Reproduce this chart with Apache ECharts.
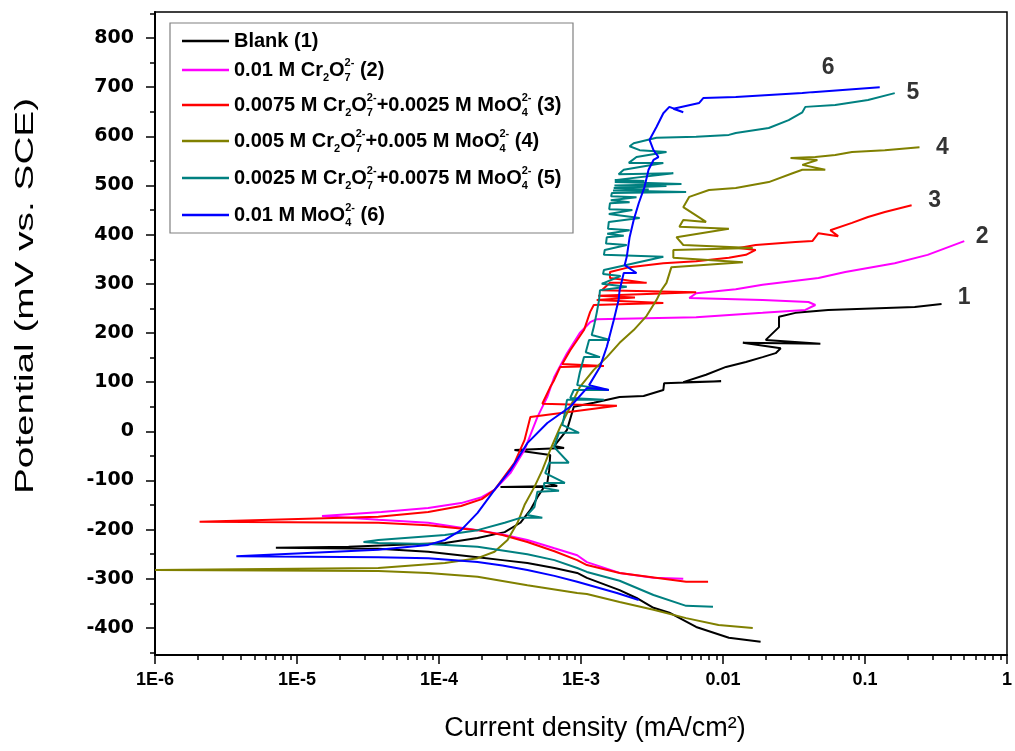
<!DOCTYPE html>
<html><head><meta charset="utf-8">
<script src="https://cdn.jsdelivr.net/npm/echarts@6/dist/echarts.min.js"></script>
<style>html,body{margin:0;padding:0;background:#fff}#c{width:1015px;height:751px}</style>
</head><body><div id="c"></div>
<script>
const seriesNames = [
  'Blank (1)',
  '0.01 M Cr₂O₇²⁻ (2)',
  '0.0075 M Cr₂O₇²⁻+0.0025 M MoO₄²⁻ (3)',
  '0.005 M Cr₂O₇²⁻+0.005 M MoO₄²⁻ (4)',
  '0.0025 M Cr₂O₇²⁻+0.0075 M MoO₄²⁻ (5)',
  '0.01 M MoO₄²⁻ (6)'
];
const legendRich = [
  'Blank (1)',
  '0.01 M Cr{sub|2}O{subz|7}{sup|2-} (2)',
  '0.0075 M Cr{sub|2}O{subz|7}{sup|2-}+0.0025 M MoO{subz|4}{sup|2-} (3)',
  '0.005 M Cr{sub|2}O{subz|7}{sup|2-}+0.005 M MoO{subz|4}{sup|2-} (4)',
  '0.0025 M Cr{sub|2}O{subz|7}{sup|2-}+0.0075 M MoO{subz|4}{sup|2-} (5)',
  '0.01 M MoO{subz|4}{sup|2-} (6)'
];
const seriesColors = ['#000000', '#ff00ff', '#ff0000', '#808000', '#008080', '#0000ff'];

// [current density (mA/cm2), potential (mV vs SCE)]
const blank = [[0.0184,-428],[0.0110,-420],[6.47e-3,-398],[4.19e-3,-369],[3.24e-3,-359],[2.46e-3,-339],[1.87e-3,-323],[1.10e-3,-298],[9.4e-4,-288],[6.5e-4,-278],[4.19e-4,-268],[2.8e-4,-262],[1.87e-4,-256],[8.4e-5,-245],[3.74e-5,-239],[7.1e-6,-237],[2.31e-5,-235],[1.10e-4,-227],[1.87e-4,-217],[2.9e-4,-205],[3.74e-4,-186],[4.4e-4,-160],[4.93e-4,-134],[5.5e-4,-113],[2.71e-4,-113],[6.8e-4,-111],[5.79e-4,-105],[5.97e-4,-79],[6.07e-4,-48],[3.4e-4,-38],[7.6e-4,-34],[6.47e-4,-30],[7.97e-4,3],[8.9e-4,50],[1.23e-3,58],[1.87e-3,70],[2.76e-3,72],[3.8e-3,84],[3.85e-3,98],[9.7e-3,102],[5.25e-3,100],[7.6e-3,115],[0.0105,131],[0.0145,141],[0.019,151],[0.0235,159],[0.0255,169],[0.0138,180],[0.0485,178],[0.020,186],[0.0248,212],[0.0248,233],[0.0324,241],[0.055,247],[0.224,253],[0.346,259]];
const cr01 = [[5.25e-3,-300],[3.24e-3,-298],[1.87e-3,-288],[1.10e-3,-266],[9.4e-4,-252],[6.5e-4,-238],[4.19e-4,-221],[2.8e-4,-210],[1.87e-4,-201],[8.4e-5,-186],[3.74e-5,-180],[1.5e-5,-172],[3.93e-5,-164],[8.4e-5,-156],[1.43e-4,-146],[2.0e-4,-134],[2.46e-4,-119],[3.18e-4,-85],[4.0e-4,-38],[4.93e-4,29],[5.79e-4,70],[6.47e-4,110],[7.97e-4,159],[9.8e-4,200],[1.16e-3,222],[1.29e-3,228],[6.47e-3,232],[0.019,241],[0.038,247],[0.0447,257],[0.040,263],[0.019,267],[5.79e-3,271],[6.47e-3,281],[0.0123,289],[0.019,298],[0.047,312],[0.0726,324],[0.162,342],[0.276,359],[0.5,387]];
const mix3 = [[7.85e-3,-306],[5.5e-3,-306],[1.87e-3,-288],[1.10e-3,-272],[9.4e-4,-262],[6.5e-4,-244],[4.19e-4,-225],[2.8e-4,-211],[1.87e-4,-201],[8.4e-5,-191],[3.74e-5,-186],[2.06e-6,-184],[3.74e-5,-174],[8.4e-5,-164],[1.43e-4,-152],[2.0e-4,-138],[2.46e-4,-119],[3.4e-4,-64],[4.0e-4,-18],[4.4e-4,29],[1.79e-3,52],[5.34e-4,56],[6.07e-4,90],[6.47e-4,104],[7.14e-4,131],[1.45e-3,133],[7.38e-4,137],[8.4e-4,165],[1.05e-3,206],[1.16e-3,243],[1.23e-3,257],[3.8e-3,261],[1.29e-3,267],[2.4e-3,272],[1.32e-3,276],[6.47e-3,283],[1.40e-3,287],[1.6e-3,302],[2.9e-3,302],[1.6e-3,312],[1.6e-3,324],[2.2e-3,334],[3.8e-3,342],[6.47e-3,346],[0.011,353],[0.0145,359],[0.017,369],[0.0129,373],[0.017,379],[0.0324,385],[0.0426,387],[0.047,403],[0.0647,397],[0.057,409],[0.081,424],[0.105,436],[0.138,446],[0.213,460]];
const mix4 = [[0.0162,-400],[9.3e-3,-394],[5.5e-3,-380],[3.24e-3,-363],[1.87e-3,-347],[1.10e-3,-331],[9.4e-4,-329],[4.19e-4,-313],[1.87e-4,-296],[8.4e-5,-288],[3.74e-5,-284],[1.0e-6,-282],[3.74e-5,-278],[1.10e-4,-268],[1.87e-4,-258],[2.46e-4,-245],[3.04e-4,-221],[3.57e-4,-186],[4.0e-4,-150],[4.7e-4,-113],[5.34e-4,-79],[6.07e-4,-38],[7.14e-4,9],[8.4e-4,50],[9.8e-4,90],[1.23e-3,125],[1.52e-3,151],[1.87e-3,180],[2.35e-3,206],[2.9e-3,235],[3.4e-3,267],[3.68e-3,287],[4.0e-3,302],[4.33e-3,334],[0.0138,344],[4.47e-3,353],[4.47e-3,369],[0.0162,373],[5.25e-3,379],[4.7e-3,395],[0.011,412],[4.93e-3,416],[5.25e-3,430],[7.6e-3,426],[5.25e-3,456],[5.79e-3,477],[7.97e-3,491],[0.0123,495],[0.021,507],[0.0309,525],[0.0362,532],[0.0525,532],[0.0362,542],[0.0462,552],[0.0299,556],[0.0447,558],[0.0617,562],[0.081,568],[0.138,572],[0.242,578]];
const mix5 = [[8.5e-3,-357],[5.5e-3,-355],[3.24e-3,-333],[1.87e-3,-304],[1.10e-3,-286],[9.4e-4,-278],[6.5e-4,-262],[4.19e-4,-250],[1.87e-4,-235],[8.4e-5,-229],[3.74e-5,-227],[2.94e-5,-225],[3.74e-5,-221],[1.10e-4,-211],[1.87e-4,-201],[2.9e-4,-186],[3.74e-4,-176],[5.34e-4,-176],[4.19e-4,-170],[4.7e-4,-154],[4.93e-4,-123],[7.0e-4,-121],[5.5e-4,-115],[5.5e-4,-105],[7.7e-4,-105],[5.6e-4,-85],[5.97e-4,-64],[8.2e-4,-64],[6.47e-4,-32],[7.0e-4,-3],[9.7e-4,-3],[7.38e-4,13],[7.6e-4,29],[7.97e-4,64],[1.45e-3,64],[8.4e-4,68],[8.9e-4,84],[1.57e-3,84],[9.4e-4,94],[9.8e-4,119],[1.05e-3,151],[1.36e-3,151],[1.08e-3,161],[1.14e-3,186],[1.6e-3,186],[1.19e-3,196],[1.23e-3,212],[1.29e-3,241],[1.34e-3,267],[1.36e-3,287],[2.1e-3,294],[1.40e-3,300],[1.9e-3,316],[1.43e-3,320],[1.45e-3,328],[3.8e-3,355],[1.45e-3,359],[1.47e-3,369],[2.1e-3,379],[1.5e-3,382],[1.52e-3,395],[2.0e-3,398],[1.53e-3,402],[2.2e-3,409],[1.55e-3,412],[1.57e-3,426],[2.59e-3,434],[1.57e-3,442],[2.3e-3,450],[1.58e-3,452],[1.6e-3,464],[2.2e-3,466],[1.62e-3,470],[2.46e-3,476],[1.63e-3,478],[1.65e-3,485],[5.5e-3,487],[1.68e-3,490],[3.0e-3,492],[1.7e-3,495],[4.0e-3,499],[1.72e-3,500],[5.1e-3,503],[1.73e-3,507],[2.8e-3,509],[1.73e-3,511],[4.47e-3,525],[1.84e-3,523],[2.0e-3,532],[3.8e-3,546],[2.17e-3,546],[2.46e-3,558],[4.0e-3,568],[2.59e-3,572],[2.2e-3,580],[2.35e-3,586],[3.4e-3,597],[6.47e-3,599],[0.011,603],[0.0123,607],[0.021,617],[0.029,633],[0.0362,649],[0.038,660],[0.0617,664],[0.105,674],[0.162,688]];
const mo01 = [[2.55e-3,-343],[1.79e-3,-329],[9.4e-4,-306],[6.5e-4,-294],[4.19e-4,-282],[2.8e-4,-273],[1.87e-4,-266],[8.4e-5,-258],[3.74e-5,-256],[3.74e-6,-254],[3.74e-5,-241],[8.4e-5,-231],[1.10e-4,-221],[1.43e-4,-201],[1.87e-4,-166],[2.46e-4,-119],[3.18e-4,-79],[4.19e-4,-24],[5.79e-4,17],[8.4e-4,50],[1.10e-3,88],[1.57e-3,84],[1.14e-3,94],[1.36e-3,131],[1.52e-3,172],[1.7e-3,226],[1.84e-3,267],[1.87e-3,287],[2.0e-3,322],[2.46e-3,322],[2.03e-3,338],[2.1e-3,355],[2.2e-3,395],[2.35e-3,430],[2.55e-3,464],[2.8e-3,497],[2.99e-3,532],[3.24e-3,552],[3.51e-3,558],[3.24e-3,572],[3.04e-3,593],[3.4e-3,619],[3.8e-3,647],[4.19e-3,660],[5.25e-3,649],[4.47e-3,656],[6.8e-3,668],[7.26e-3,678],[0.0123,680],[0.0362,688],[0.0426,690],[0.127,700]];
const seriesData = [blank, cr01, mix3, mix4, mix5, mo01];

const curveLabelX = [0.5, 0.669, 0.309, 0.351, 0.217, 0.055];
const curveLabelY = [271, 395, 470, 578, 688, 739];
const curveLabelText = ['1', '2', '3', '4', '5', '6'];

const xTickLabels = ['1E-6', '1E-5', '1E-4', '1E-3', '0.01', '0.1', '1'];
const yMajorTicks = [-400, -300, -200, -100, 0, 100, 200, 300, 400, 500, 600, 700, 800];
const yMinorTicks = [-450, -350, -250, -150, -50, 50, 150, 250, 350, 450, 550, 650, 750, 850];

const FONT = '"Liberation Sans", Arial, sans-serif';
const YFONT = '"DejaVu Sans", sans-serif';
const xMinorTicks = [];
for (let d = -6; d < 0; d++) for (let k = 2; k <= 9; k++) xMinorTicks.push(d + Math.log10(k));

const legendRows = [30, 57, 92, 128, 165, 202];
const legends = seriesNames.map((n, i) => ({
  data: [n], left: 182, top: legendRows[i], orient: 'vertical', padding: 0,
  icon: 'rect', itemWidth: 47, itemHeight: 2.5, selectedMode: false,
  formatter: () => legendRich[i],
  textStyle: {
    fontFamily: FONT, fontSize: 20, fontWeight: 'bold', color: '#000', lineHeight: i === 0 ? 22 : 26,
    rich: {
      sub: { fontFamily: FONT, fontSize: 11, fontWeight: 'bold', color: '#000', lineHeight: 14, verticalAlign: 'bottom' },
      subz: { fontFamily: FONT, fontSize: 11, fontWeight: 'bold', color: '#000', lineHeight: 14, verticalAlign: 'bottom', width: 0 },
      sup: { fontFamily: FONT, fontSize: 11, fontWeight: 'bold', color: '#000', lineHeight: 14, verticalAlign: 'top' }
    }
  }
}));

const chart = echarts.init(document.getElementById('c'), null, { renderer: 'canvas' });
chart.setOption({
  animation: false,
  backgroundColor: '#fff',
  grid: { left: 155, right: 2, top: 12, bottom: 96, show: true, borderColor: '#000', borderWidth: 1.5 },
  legend: legends,
  xAxis: [{
    type: 'log', logBase: 10, min: 1e-6, max: 1, splitNumber: 6,
    axisLine: { show: true, onZero: false, lineStyle: { color: '#000', width: 2 } },
    axisTick: { show: true, length: 9, lineStyle: { color: '#000', width: 1.5 } },
    axisLabel: { margin: 16, fontFamily: FONT, fontSize: 18, fontWeight: 'bold', color: '#000',
      formatter: v => xTickLabels[Math.round(Math.log10(v)) + 6] },
    splitLine: { show: false },
    name: 'Current density (mA/cm²)', nameLocation: 'middle', nameGap: 60,
    nameTextStyle: { fontFamily: FONT, fontSize: 27, color: '#000', padding: [0, 0, 0, 28] }
  }, {
    type: 'value', min: -6, max: 0, position: 'bottom',
    axisLine: { show: false, onZero: false },
    axisTick: { show: true, length: 5, customValues: xMinorTicks, lineStyle: { color: '#000', width: 1.5 } },
    axisLabel: { show: false }, splitLine: { show: false }
  }],
  yAxis: [{
    type: 'value', min: -455, max: 853, position: 'left',
    axisLine: { show: true, onZero: false, lineStyle: { color: '#000', width: 2 } },
    axisTick: { show: true, length: 9, customValues: yMajorTicks, lineStyle: { color: '#000', width: 1.5 } },
    axisLabel: { customValues: yMajorTicks, margin: 21, fontFamily: YFONT, fontSize: 19, fontWeight: 'bold', color: '#000' },
    splitLine: { show: false }
  }, {
    type: 'value', min: -455, max: 853, position: 'left', offset: 0,
    axisLine: { show: false, onZero: false },
    axisTick: { show: true, length: 5, customValues: yMinorTicks, lineStyle: { color: '#000', width: 1.5 } },
    axisLabel: { show: false }, splitLine: { show: false }
  }],
  graphic: [
    { type: 'rect', shape: { x: 170, y: 23, width: 403, height: 210 }, style: { fill: 'none', stroke: '#808080', lineWidth: 1.2 }, silent: true },
    { type: 'text', x: 26, y: 296, rotation: Math.PI / 2, scaleX: 1.55,
      style: { text: 'Potential (mV vs. SCE)', font: '25px ' + FONT, fill: '#000', textAlign: 'center', textVerticalAlign: 'middle' } }
  ],
  series: seriesData.map((d, i) => ({
    type: 'line', name: seriesNames[i], data: d, showSymbol: false, symbol: 'none',
    lineStyle: { color: seriesColors[i], width: 2 }, itemStyle: { color: seriesColors[i] },
    xAxisIndex: 0, yAxisIndex: 0, smooth: false
  })).concat([{
    type: 'scatter', name: 'curve labels', xAxisIndex: 0, yAxisIndex: 0, symbolSize: 0, silent: true,
    data: curveLabelX.map((x, i) => [x, curveLabelY[i], curveLabelText[i]]),
    label: { show: true, position: 'inside', formatter: p => p.data[2], fontFamily: FONT, fontSize: 23, fontWeight: 'bold', color: '#000' }
  }])
});
</script></body></html>
